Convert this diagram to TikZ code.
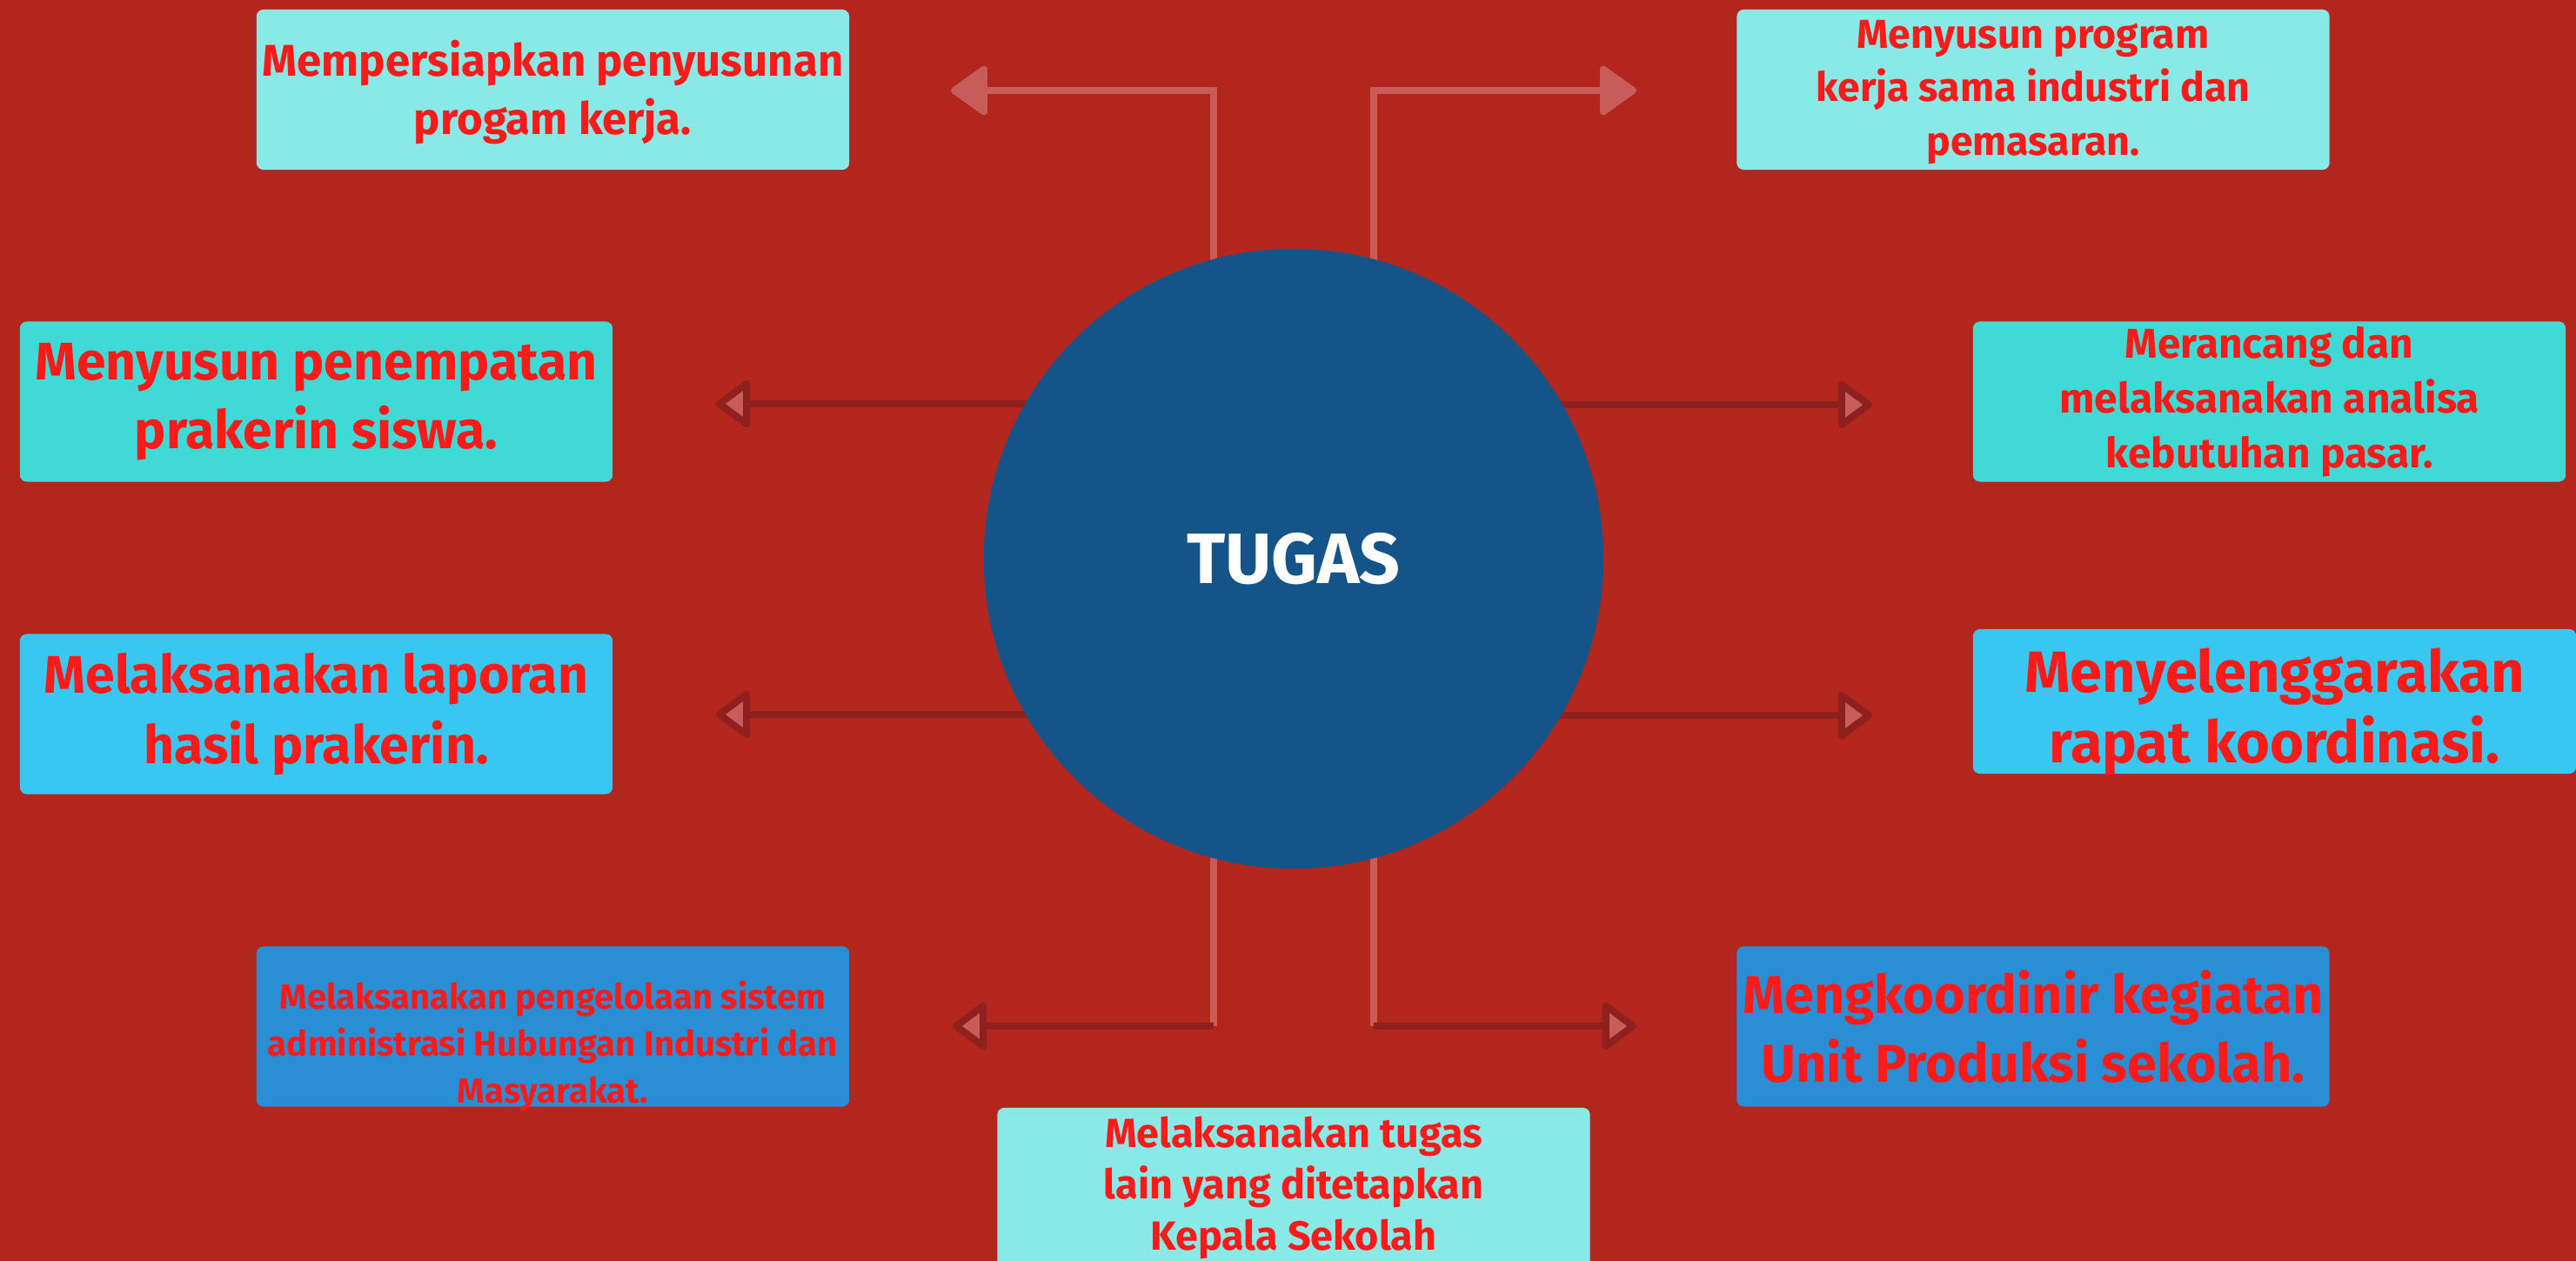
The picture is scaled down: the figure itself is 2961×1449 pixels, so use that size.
\documentclass[tikz,border=0pt]{standalone}
\usepackage{fontspec}
\setmainfont{Fira Sans}
\usetikzlibrary{arrows.meta,backgrounds}

\definecolor{bgred}{HTML}{B3261E}
\definecolor{hubblue}{HTML}{155489}
\definecolor{pinkline}{HTML}{C75C58}
\definecolor{darkline}{HTML}{8E201D}
\definecolor{paleaqua}{HTML}{88E9E6}
\definecolor{turq}{HTML}{40DAD6}
\definecolor{skyblue}{HTML}{38C7F0}
\definecolor{midblue}{HTML}{2A8ED5}
\definecolor{txtred}{HTML}{FF1A1A}

\newcommand{\fsz}[2]{\fontsize{#1}{#2}\selectfont\bfseries}

\tikzset{
  tbox/.style={rectangle, rounded corners=0.08cm, inner sep=0pt, align=center,
    text=txtred, minimum width=6.81cm, minimum height=1.84cm},
  boxtxt/.style={text=txtred, align=center, inner sep=0pt},
  lightline/.style={draw=pinkline, line width=0.08cm},
  lightarrow/.style={lightline, -{Triangle[length=0.45cm,width=0.62cm,round]}},
  darkarrow/.style={draw=darkline, line width=0.08cm,
    -{Triangle[length=0.42cm,width=0.6cm,round,fill=pinkline]}},
}

\begin{document}
\begin{tikzpicture}[x=0.01cm,y=-0.01cm]
    \useasboundingbox (0,0) rectangle (2961,1449);
    % centre
    \node[circle, fill=hubblue, minimum size=7.12cm, inner sep=0pt, text=white,
      font=\fsz{23.3}{27}] (hub) at (1487,642) {TUGAS};
    % boxes
    \node[tbox, fill=paleaqua,
      label={[boxtxt, yshift=-0.03cm, font=\fsz{14.5}{19.3}]center:Mempersiapkan penyusunan\\progam kerja.}]
      (prep) at (635.5,103) {};
    \node[tbox, fill=paleaqua,
      label={[boxtxt, yshift=-0.03cm, font=\fsz{13.2}{17.4}]center:Menyusun program\\kerja sama industri dan\\pemasaran.}]
      (kerja) at (2337,103) {};
    \node[tbox, fill=turq, font=\fsz{17.3}{22.5}] (tempat) at (363.5,461.5)
      {Menyusun penempatan\\prakerin siswa.};
    \node[tbox, fill=skyblue, font=\fsz{17.3}{23}] (lapor) at (363.5,820.5)
      {Melaksanakan laporan\\hasil prakerin.};
    \node[tbox, fill=midblue,
      label={[boxtxt, yshift=-0.22cm, font=\fsz{11.4}{15.3}]center:Melaksanakan pengelolaan sistem\\administrasi Hubungan Industri dan\\Masyarakat.}]
      (admin) at (635.5,1179.5) {};
    \node[tbox, fill=turq, font=\fsz{13.6}{18}] (pasar) at (2608.5,461.5)
      {Merancang dan\\melaksanakan analisa\\kebutuhan pasar.};
    \node[tbox, fill=skyblue, minimum width=6.93cm, minimum height=1.66cm,
      label={[boxtxt, yshift=-0.12cm, font=\fsz{19}{23}]center:Menyelenggarakan\\rapat koordinasi.}]
      (rapat) at (2614.5,806) {};
    \node[tbox, fill=midblue, font=\fsz{17.4}{22.5}] (produksi) at (2337,1179.5)
      {Mengkoordinir kegiatan\\Unit Produksi sekolah.};
    \node[tbox, fill=paleaqua, font=\fsz{13.3}{16.8}] (lain) at (1487,1365)
      {Melaksanakan tugas\\lain yang ditetapkan\\Kepala Sekolah};
    % arrow ends
    \coordinate (tlc) at (1395,104);
    \coordinate (tlt) at (1093,104);
    \coordinate (trc) at (1579,104);
    \coordinate (trt) at (1881,104);
    \coordinate (mlt1) at (823,464);
    \coordinate (mlt2) at (823,821);
    \coordinate (mrt1) at (2152,465);
    \coordinate (mrt2) at (2152,822);
    \coordinate (blc) at (1395,1179);
    \coordinate (blt) at (1095,1179);
    \coordinate (brc) at (1579,1179);
    \coordinate (brt) at (1881,1179);
    \begin{scope}[on background layer]
      \fill[bgred] (0,0) rectangle (2961,1449);
      \draw[lightarrow] (hub.center -| tlc) -- (tlc) -- (tlt);
      \draw[lightarrow] (hub.center -| trc) -- (trc) -- (trt);
      \draw[darkarrow] (hub.center |- mlt1) -- (mlt1);
      \draw[darkarrow] (hub.center |- mlt2) -- (mlt2);
      \draw[darkarrow] (hub.center |- mrt1) -- (mrt1);
      \draw[darkarrow] (hub.center |- mrt2) -- (mrt2);
      \draw[lightline] (hub.center -| blc) -- (blc);
      \draw[lightline] (hub.center -| brc) -- (brc);
      \draw[darkarrow] (blc) -- (blt);
      \draw[darkarrow] (brc) -- (brt);
    \end{scope}
\end{tikzpicture}
\end{document}
